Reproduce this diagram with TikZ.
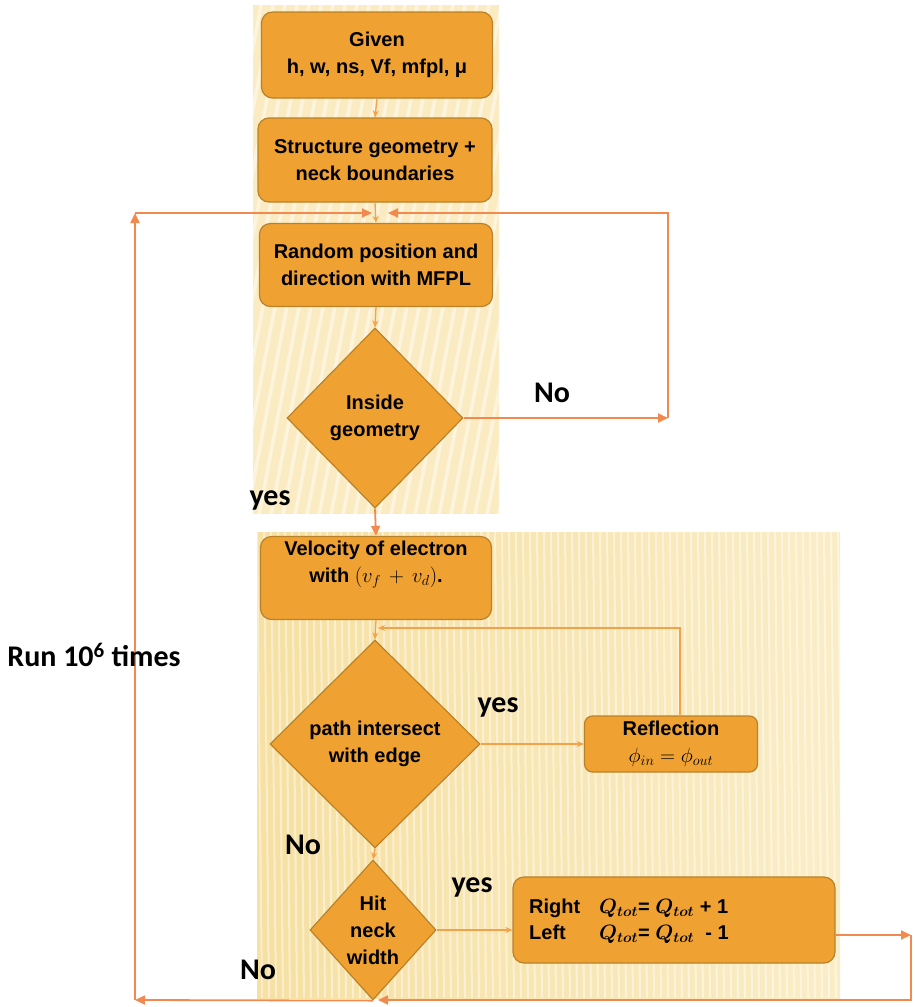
\documentclass[tikz,border=0pt]{standalone}
\usepackage{fontspec}
\setmainfont{Liberation Sans}
\newfontfamily\lblfont{Carlito}
\usetikzlibrary{shapes.geometric,arrows.meta}
\definecolor{boxfill}{HTML}{EFA232}
\definecolor{boxline}{HTML}{B9822A}
\definecolor{loopline}{HTML}{F28A50}
\definecolor{inline}{HTML}{F2A24A}
\definecolor{paneltop}{HTML}{FAEBC2}
\definecolor{panelbotL}{HTML}{F6E0A2}
\definecolor{panelbotR}{HTML}{FAEDC6}
\tikzset{
  procbox/.style={draw=boxline, line width=1.2pt, fill=boxfill, rounded corners=11pt,
    align=center, inner sep=0pt, font=\bfseries\fontsize{20}{27}\selectfont},
  boxtext/.style={align=center, inner sep=0pt, font=\bfseries\fontsize{20}{27}\selectfont},
  decision/.style={diamond, draw=boxline, line width=1.2pt, fill=boxfill, inner sep=0pt,
    align=center, font=\bfseries\fontsize{20}{27}\selectfont},
  flowarrow/.style={draw=inline, line width=1.3pt, -{Stealth[length=7pt,width=6pt]}},
  looparrow/.style={draw=loopline, line width=1.8pt, -{Triangle[length=10pt,width=9pt]}},
  lbl/.style={inner sep=0pt, font=\lblfont\bfseries\fontsize{30}{34}\selectfont},
  stripe/.style={draw=white, opacity=0.45}
}
\begin{document}
\begin{tikzpicture}[x=1pt,y=-1pt]
\useasboundingbox (0,0) rectangle (914,1007);
% panels
\fill[paneltop] (253,5) rectangle (499,514);
\begin{scope}
  \clip (253,5) rectangle (499,514);
  \foreach \i in {0,...,50} \draw[stripe, line width=3.5pt] ({150+\i*12},520) -- ({250+\i*12},0);
\end{scope}
\fill[left color=panelbotL, right color=panelbotR] (257,532) rectangle (840,998);
\begin{scope}
  \clip (257,532) rectangle (840,998);
  \foreach \i in {0,...,85} \draw[stripe, line width=2pt] ({250+\i*7},532) -- ({255+\i*7},998);
\end{scope}

% nodes
\node[procbox, minimum width=231pt, minimum height=86pt] (given) at (377,55) {Given\\h, w, ns, Vf, mfpl, μ};
\node[procbox, minimum width=234pt, minimum height=84pt] (struct) at (375,160) {Structure geometry +\\neck boundaries};
\node[procbox, minimum width=233pt, minimum height=83pt] (random) at (376,265) {Random position and\\direction with MFPL};
\node[decision, minimum width=176pt, minimum height=180pt] (inside) at (375,418) {Inside\\geometry};
\node[procbox, minimum width=231pt, minimum height=83pt] (vel) at (376,578) {};
\node[boxtext] (veltext) at (376,565) {Velocity of electron\\with $(v_f\,+\,v_d)$.};
\node[decision, minimum width=210pt, minimum height=208pt] (pathd) at (375,744) {path intersect\\with edge};
\node[procbox, minimum width=173pt, minimum height=56pt, rounded corners=8pt] (refl) at (671,744) {Reflection\\$\phi_{in}=\phi_{out}$};
\node[decision, minimum width=126pt, minimum height=140pt] (hit) at (373,930) {Hit\\neck\\width};
\node[procbox, minimum width=322pt, minimum height=86pt] (result) at (674,920) {};
\node[boxtext, anchor=west, align=left, font=\bfseries\boldmath\fontsize{20}{26}\selectfont] (restext) at (529,921)
  {\makebox[70pt][l]{Right}$Q_{tot}$= $Q_{tot}$ + 1\\\makebox[70pt][l]{Left}$Q_{tot}$= $Q_{tot}$ \ - 1};

% coordinates
\coordinate (jL) at (372,213);
\coordinate (jR) at (388,213);
\coordinate (noR) at (668,418);
\coordinate (noTop) at (668,213);
\coordinate (loopTop) at (135,213);
\coordinate (botL) at (135,1000);
\coordinate (resOut) at (835,935);
\coordinate (rEnd) at (911,935);
\coordinate (rBot) at (911,1000);
\coordinate (botM) at (378,1000);
\coordinate (reflUp) at (680,716);
\coordinate (retCorner) at (680,628);
\coordinate (retEnd) at (378,628);

% connectors
\draw[flowarrow] (given.south) -- (struct.north);
\draw[flowarrow] (struct.south) -- (random.north);
\draw[flowarrow] (random.south) -- (inside.north);
\draw[looparrow] (inside.south) -- (vel.north);
\draw[looparrow] (inside.east) -- (noR);
\draw[looparrow] (noR) -- (noTop) -- (jR);
\draw[flowarrow] (vel.south) -- (pathd.north);
\draw[flowarrow] (pathd.east) -- (refl.west);
\draw[flowarrow] (reflUp) -- (retCorner) -- (retEnd);
\draw[flowarrow] (pathd.south) -- (hit.north);
\draw[flowarrow] (hit.east) -- (hit.east -| result.west);
\draw[looparrow] (resOut) -- (rEnd);
\draw[looparrow] (rEnd) -- (rBot) -- (botM);
\draw[looparrow] (hit.south) -- (botL);
\draw[looparrow] (botL) -- (loopTop);
\draw[looparrow] (loopTop) -- (jL);

% labels
\node[lbl] (noA) at (552,393) {No};
\node[lbl] (yesA) at (270,500) {yes};
\node[lbl] (yesB) at (498,707) {yes};
\node[lbl] (noB) at (303,845) {No};
\node[lbl] (yesC) at (472,887) {yes};
\node[lbl] (noC) at (258,970) {No};
\node[lbl] (run) at (94,655) {Run 10\textsuperscript{6} times};
\end{tikzpicture}
\end{document}
